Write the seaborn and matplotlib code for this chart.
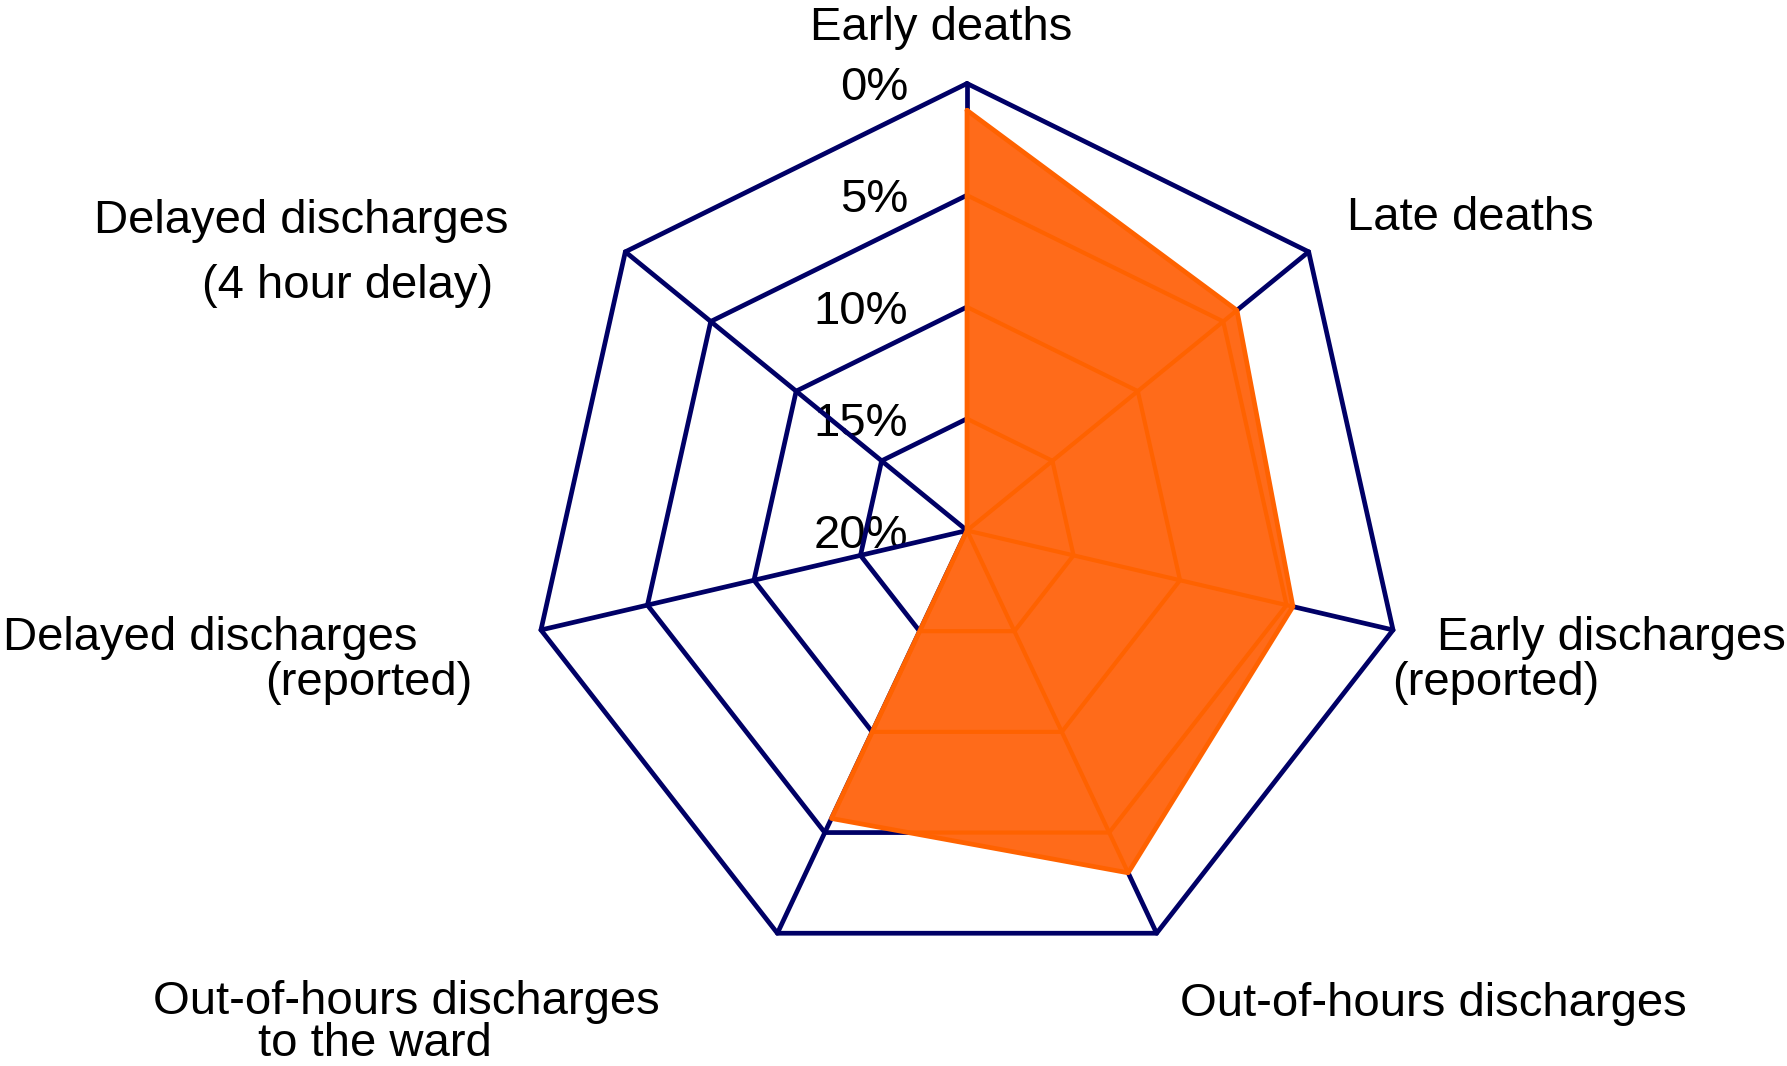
import numpy as np
import pandas as pd
import matplotlib
matplotlib.use("Agg")
import matplotlib.pyplot as plt
import seaborn as sns

# ---- data ----
categories = ["Early deaths", "Late deaths", "Early discharges (reported)",
              "Out-of-hours discharges", "Out-of-hours discharges to the ward",
              "Delayed discharges (reported)", "Delayed discharges (4 hour delay)"]
values = [1.2, 4.2, 4.7, 3.0, 5.7, 20.0, 20.0]
ring_ticks = [0, 5, 10, 15, 20]
tick_labels = ["0%", "5%", "10%", "15%", "20%"]

W, H = 1787, 1066
sns.set_theme(style="white")
plt.rcParams["font.family"] = ["Liberation Sans", "DejaVu Sans"]

NAVY = "#000066"
FILL = "#FF6B1A"
ORANGE_LINE = "#FF6200"
FS = 34

fig = plt.figure(figsize=(W / 100, H / 100), dpi=100)
cx, cy, RH, RV = 967, 530.5, 437, 447
ax = fig.add_axes([(cx - RH) / W, 1 - (cy + RV) / H, 2 * RH / W, 2 * RV / H],
                  projection="polar")
ax.set_aspect("auto")
ax.set_theta_zero_location("N")
ax.set_theta_direction(-1)
ax.set_ylim(20, 0)
ax.grid(False)
ax.spines["polar"].set_visible(False)
ax.set_xticks([])
ax.set_yticks([])
ax.patch.set_alpha(0)

n = len(categories)
angles = [2 * np.pi * i / n for i in range(n)]
closed_angles = angles + [angles[0]]

# grid (navy)
grid_lines = []
for r in ring_ticks[:-1]:
    ax.plot(closed_angles, [r] * (n + 1), color=NAVY, lw=3.4, zorder=1,
            clip_on=False, solid_joinstyle="miter")
    grid_lines.append((closed_angles, [r] * (n + 1)))
for a in angles:
    ax.plot([a, a], [ring_ticks[-1], ring_ticks[0]], color=NAVY, lw=3.4, zorder=1,
            clip_on=False)
    grid_lines.append(([a, a], [ring_ticks[-1], ring_ticks[0]]))

# filled data polygon
df = pd.DataFrame({"theta": closed_angles, "value": values + [values[0]]})
patches = ax.fill(df["theta"], df["value"], color=FILL, zorder=2, lw=0)
poly = patches[0]

# grid lines inside the polygon, tinted orange
for xs, ys in grid_lines:
    (ln,) = ax.plot(xs, ys, color=ORANGE_LINE, lw=3.0, zorder=3, clip_on=True)
    ln.set_clip_path(poly)

sns.lineplot(data=df, x="theta", y="value", sort=False, estimator=None,
             color=ORANGE_LINE, lw=3.4, ax=ax, zorder=4)
ax.set_xlabel("")
ax.set_ylabel("")
ax.set_xticks([])
ax.set_yticks([])

# radial tick labels
for r, lab in zip(ring_ticks, tick_labels):
    ax.annotate(lab, xy=(0, r), xytext=(-59, -5), textcoords="offset pixels",
                ha="right", va="center", fontsize=FS, color="black", zorder=0.5,
                annotation_clip=False)

# category labels
def ftext(x, y, s, ha="left", **kw):
    fig.text(x / W, 1 - y / H, s, ha=ha, va="baseline", fontsize=FS,
             color="black", **kw)

ftext(941, 40, "Early deaths", ha="center")
ftext(1347, 230, "Late deaths")
ftext(1437, 650, "Early discharges")
ftext(1392, 695, "(reported)")
ftext(1180, 1016, "Out-of-hours discharges")
ftext(153, 1056, "Out-of-hours discharges\n" + " " * 8 + "to the ward",
      linespacing=0.95)
ftext(3, 650, "Delayed discharges")
ftext(265, 695, "(reported)")
ftext(94, 233, "Delayed discharges")
ftext(202, 298, "(4 hour delay)")

fig.savefig("out.png", dpi=100, facecolor="white")
